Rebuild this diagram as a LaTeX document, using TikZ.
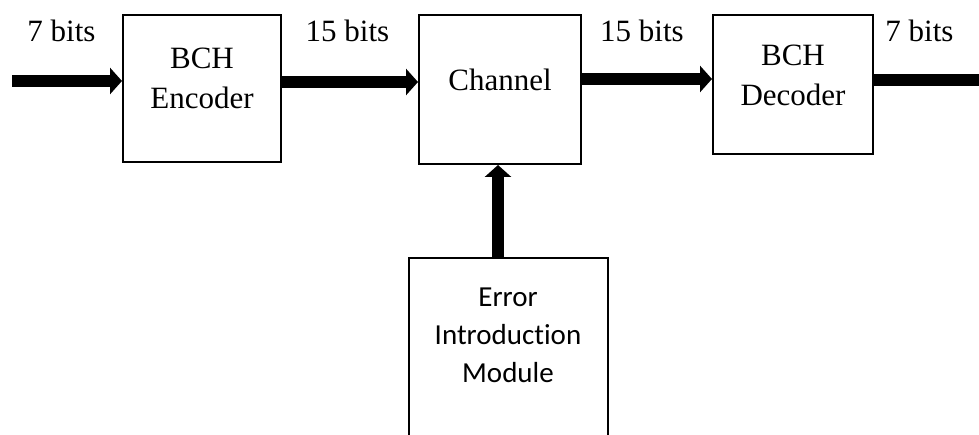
\documentclass[tikz,border=0pt]{standalone}
\usepackage{fontspec}
\setmainfont{Liberation Serif}
\newfontfamily\errfont[Ligatures=NoCommon]{Carlito}
\usetikzlibrary{arrows.meta}
\tikzset{
  blk/.style={draw=black, line width=2pt, rectangle, inner sep=0pt},
  txt/.style={inner sep=0pt, align=center, font=\fontsize{31}{40}\selectfont},
  etxt/.style={inner sep=0pt, align=center, font=\errfont\fontsize{29}{38}\selectfont},
  fat/.style={line width=12pt, -{Triangle[length=12pt,width=26pt]}},
  fatplain/.style={line width=12pt},
}
\begin{document}
\begin{tikzpicture}[x=1pt,y=1pt]
\clip (0,0) rectangle (979,434);
\fill[white] (0,0) rectangle (979,434);
% blocks
\node[blk, minimum width=158pt, minimum height=147pt] (enc) at (202,345.5) {};
\node[blk, minimum width=162pt, minimum height=149pt] (chan) at (500,344.5) {};
\node[blk, minimum width=160pt, minimum height=139pt] (dec) at (793,349.5) {};
\node[blk, minimum width=199pt, minimum height=196pt] (err) at (508.5,78) {};
% block texts
\node[txt, anchor=north] (enct) at (202,386.5) {BCH\\Encoder};
\node[txt, anchor=north] (chant) at (500,365.2) {Channel};
\node[txt, anchor=north] (dect) at (793,389.5) {BCH\\Decoder};
\node[etxt, anchor=north] (errt) at (508,146) {Error\\Introduction\\Module};
% labels
\node[txt, anchor=base] (l1) at (61.5,392) {7 bits};
\node[txt, anchor=base] (l2) at (347.5,392) {15 bits};
\node[txt, anchor=base] (l3) at (642,392) {15 bits};
\node[txt, anchor=base] (l4) at (919.5,392) {7 bits};
% connector coordinates
\coordinate (in) at (12,353);
\coordinate (out) at (990,353.5);
\coordinate (y2) at (0,352);
\coordinate (y3) at (0,355);
\coordinate (xv) at (498,0);
% connectors
\draw[fat] (in) -- (in -| enc.west);
\draw[fat] (enc.east |- y2) -- (chan.west |- y2);
\draw[fat] (chan.east |- y3) -- (dec.west |- y3);
\draw[fatplain] (dec.east |- out) -- (out);
\draw[fat] (xv |- err.north) -- (xv |- chan.south);
\end{tikzpicture}
\end{document}
